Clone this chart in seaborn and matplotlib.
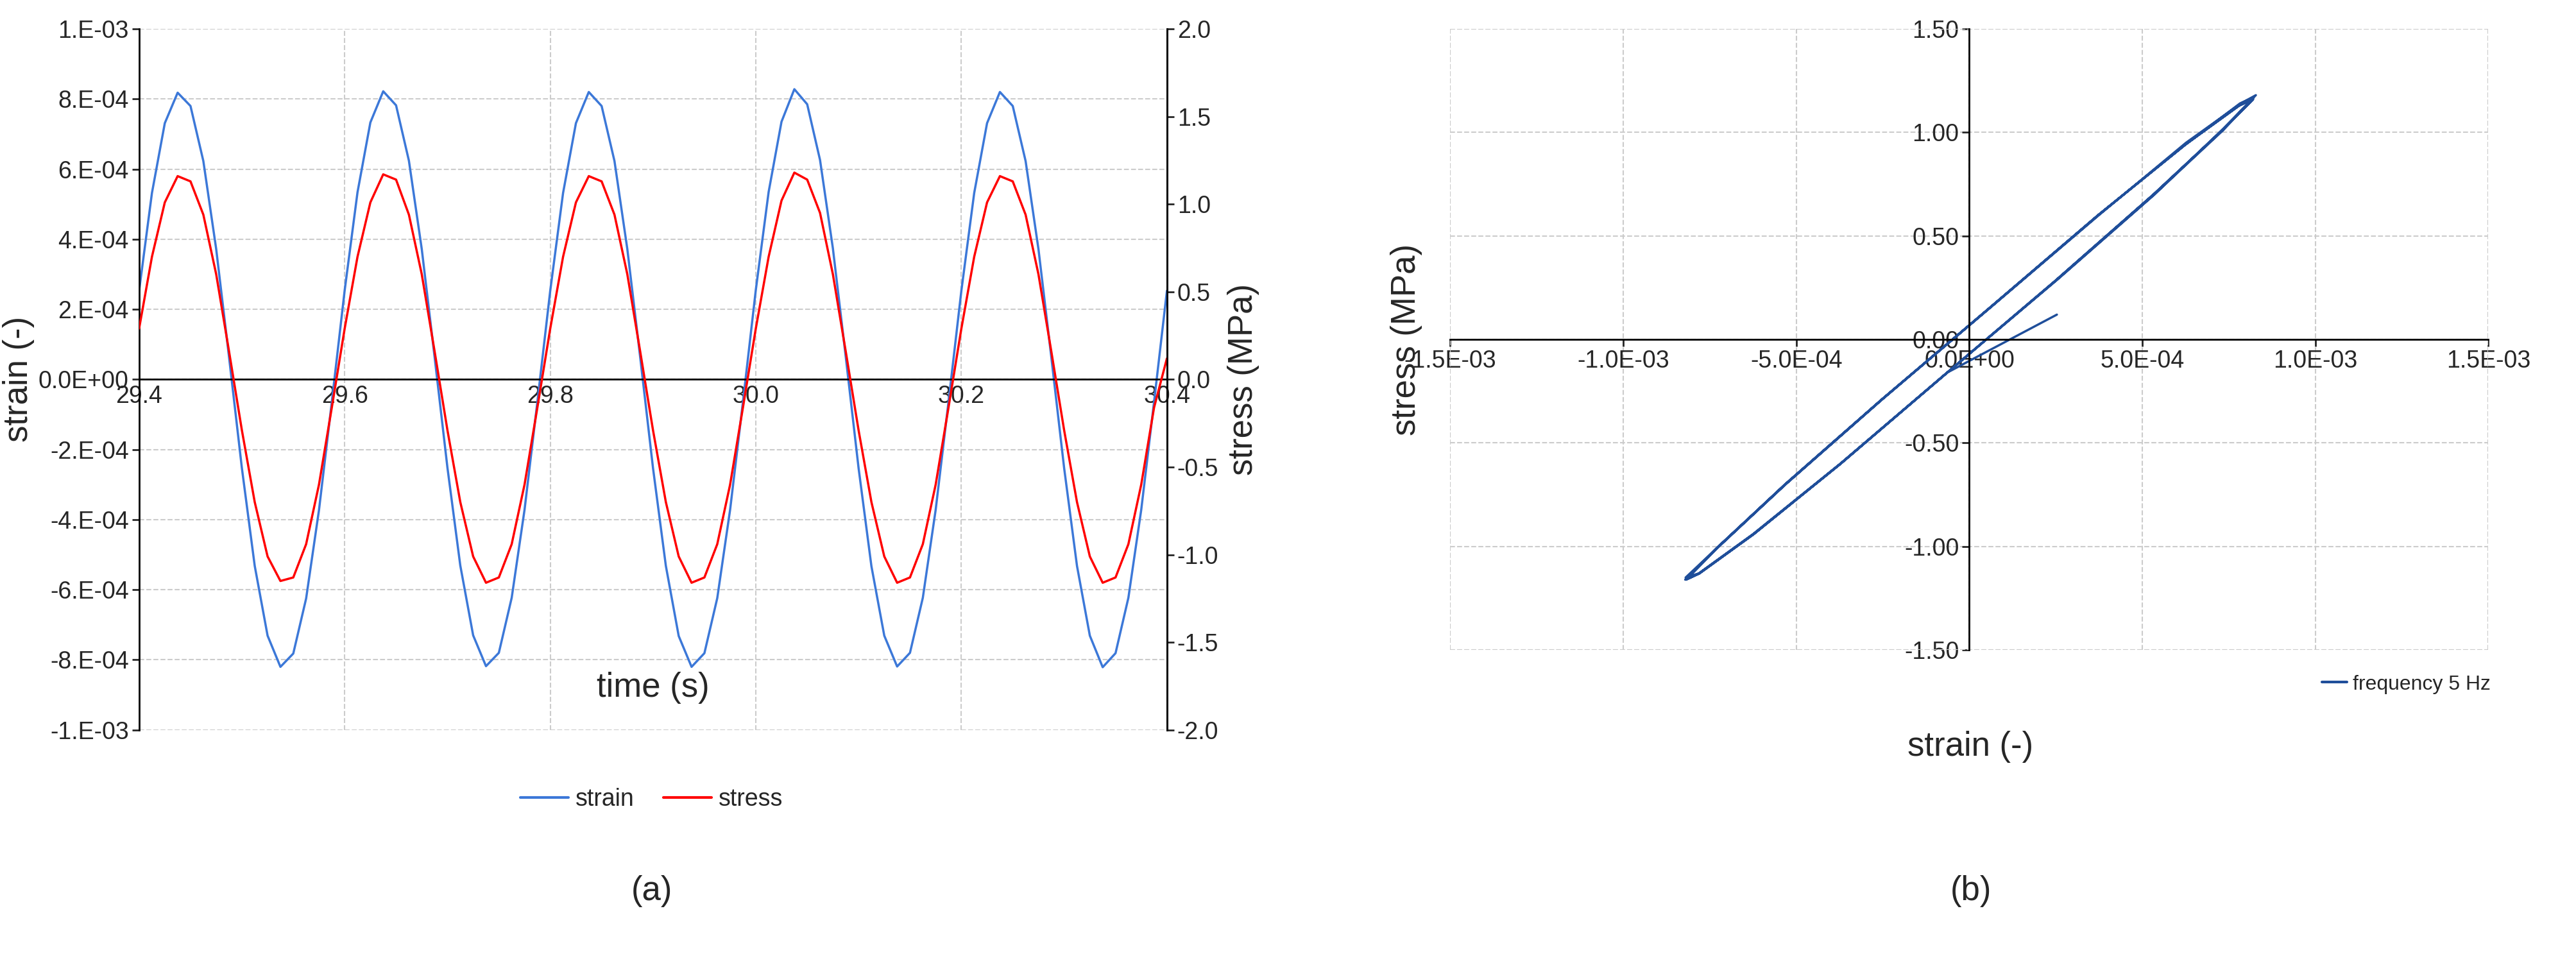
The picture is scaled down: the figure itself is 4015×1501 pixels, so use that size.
import numpy as np
import pandas as pd
import seaborn as sns
from matplotlib import pyplot as plt

##### Data #####
time = np.round(np.arange(81) * 0.0125 + 29.4, 4)
strain_e4 = [2.53, 5.32, 7.31, 8.18, 7.80, 6.23, 3.72, 0.64, -2.53, -5.32, -7.31, -8.20, -7.82, -6.25, -3.73, -0.64,
             2.54, 5.34, 7.33, 8.22, 7.82, 6.24, 3.72, 0.64, -2.52, -5.31, -7.30, -8.18, -7.80, -6.23, -3.72, -0.64,
             2.53, 5.32, 7.31, 8.20, 7.80, 6.23, 3.72, 0.64, -2.53, -5.32, -7.32, -8.20, -7.81, -6.24, -3.72, -0.64,
             2.55, 5.35, 7.35, 8.28, 7.85, 6.26, 3.74, 0.65, -2.53, -5.33, -7.31, -8.19, -7.80, -6.23, -3.72, -0.64,
             2.53, 5.32, 7.31, 8.20, 7.80, 6.23, 3.72, 0.64, -2.53, -5.32, -7.31, -8.21, -7.81, -6.23, -3.72, -0.64,
             2.53]
stress = [0.29, 0.70, 1.01, 1.16, 1.13, 0.94, 0.60, 0.16, -0.29, -0.70, -1.01, -1.15, -1.13, -0.94, -0.60, -0.16,
          0.29, 0.70, 1.01, 1.17, 1.14, 0.94, 0.60, 0.16, -0.29, -0.70, -1.01, -1.16, -1.13, -0.94, -0.60, -0.16,
          0.29, 0.70, 1.01, 1.16, 1.13, 0.94, 0.60, 0.16, -0.29, -0.70, -1.01, -1.16, -1.13, -0.94, -0.60, -0.16,
          0.29, 0.70, 1.02, 1.18, 1.14, 0.95, 0.60, 0.16, -0.29, -0.70, -1.01, -1.16, -1.13, -0.94, -0.60, -0.16,
          0.29, 0.70, 1.01, 1.16, 1.13, 0.94, 0.60, 0.16, -0.29, -0.70, -1.01, -1.16, -1.13, -0.94, -0.60, -0.16,
          0.12]

strain_ticks = ['-1.E-03', '-8.E-04', '-6.E-04', '-4.E-04', '-2.E-04', '0.0E+00',
                '2.E-04', '4.E-04', '6.E-04', '8.E-04', '1.E-03']
time_ticks = ['29.4', '29.6', '29.8', '30.0', '30.2', '30.4']
loop_xticks = ['-1.5E-03', '-1.0E-03', '-5.0E-04', '0.0E+00', '5.0E-04', '1.0E-03', '1.5E-03']

df = pd.DataFrame({'time': time, 'strain': np.array(strain_e4) * 1e-4, 'stress': stress})

sns.set_theme(style="white")
plt.rcParams['font.family'] = ['Liberation Sans', 'DejaVu Sans']
BLUE, RED, DARK = '#3C78D8', '#FF0000', '#1F4E9A'
TS, LS = 27, 38

fig = plt.figure(figsize=(40.15, 15.01), dpi=100)

##### (a) time series #####
ax = fig.add_axes([0.054, 0.242, 0.399, 0.728])
sns.lineplot(data=df, x='time', y='strain', ax=ax, color=BLUE, lw=2.5, estimator=None, legend=False)
ax.set_xlim(29.4, 30.4)
ax.set_ylim(-1e-3, 1e-3)
ax.spines['bottom'].set_position(('data', 0))
ax.spines['top'].set_visible(False)
for s in ['left', 'bottom', 'right']:
    ax.spines[s].set_color('black')
    ax.spines[s].set_linewidth(2)
ax.set_yticks(np.arange(-10, 11, 2) * 1e-4)
ax.set_yticklabels(strain_ticks)
ax.set_xticks(np.arange(29.4, 30.41, 0.2))
ax.set_xticklabels(time_ticks)
ax.tick_params(axis='x', pad=6, length=0, labelsize=TS)
ax.tick_params(axis='y', length=8, width=2, direction='out', left=True, labelsize=TS)
ax.grid(True, ls='--', color='#cccccc', lw=1.5)
ax.set_xlabel('')
ax.set_ylabel('strain (-)', fontsize=LS, labelpad=4)
ax.text(29.9, -9.05e-4, 'time (s)', fontsize=LS, ha='center')

ax2 = ax.twinx()
sns.lineplot(data=df, x='time', y='stress', ax=ax2, color=RED, lw=2.5, estimator=None, legend=False)
ax2.set_ylim(-2.0, 2.0)
ax2.set_yticks(np.arange(-2.0, 2.01, 0.5))
ax2.set_yticklabels([f'{v:.1f}' for v in np.arange(-2.0, 2.01, 0.5)])
ax2.set_ylabel('stress (MPa)', fontsize=LS, labelpad=10)
ax2.tick_params(axis='y', length=8, width=2, right=True, labelsize=TS)
for s in ['top', 'left', 'bottom']:
    ax2.spines[s].set_visible(False)
ax2.spines['right'].set_color('black')
ax2.spines['right'].set_linewidth(2)

h = [plt.Line2D([], [], color=BLUE, lw=3), plt.Line2D([], [], color=RED, lw=3)]
fig.legend(h, ['strain', 'stress'], loc='center', bbox_to_anchor=(0.253, 0.17), ncol=2,
           frameon=False, fontsize=TS, handlelength=2, columnspacing=1.2, handletextpad=0.3)
fig.text(0.253, 0.065, '(a)', fontsize=LS, ha='center')

##### (b) hysteresis loop #####
bx = fig.add_axes([0.563, 0.325, 0.403, 0.645])
sns.lineplot(data=df, x='strain', y='stress', sort=False, estimator=None, ax=bx, color=DARK, lw=2.5, legend=False)
bx.set_xlim(-1.5e-3, 1.5e-3)
bx.set_ylim(-1.5, 1.5)
bx.spines['left'].set_position(('data', 0))
bx.spines['bottom'].set_position(('data', 0))
for s in ['top', 'right']:
    bx.spines[s].set_visible(False)
for s in ['left', 'bottom']:
    bx.spines[s].set_color('black')
    bx.spines[s].set_linewidth(2)
bx.set_xticks(np.arange(-15, 16, 5) * 1e-4)
bx.set_xticklabels(loop_xticks)
bx.set_yticks(np.arange(-1.5, 1.51, 0.5))
bx.set_yticklabels([f'{v:.2f}' for v in np.arange(-1.5, 1.51, 0.5)])
bx.tick_params(axis='both', length=8, width=2, direction='out', bottom=True, left=True, labelsize=TS)
bx.grid(True, ls='--', color='#cccccc', lw=1.5)
for s in [-1.5e-3, 1.5e-3]:
    bx.axvline(s, ls='--', color='#cccccc', lw=1.5)
bx.axhline(1.5, ls='--', color='#cccccc', lw=1.5)
bx.axhline(-1.5, ls='--', color='#cccccc', lw=1.5)
bx.set_xlabel('')
bx.set_ylabel('')
fig.text(0.546, 0.647, 'stress (MPa)', fontsize=LS, rotation=90, ha='center', va='center')
fig.text(0.765, 0.215, 'strain (-)', fontsize=LS, ha='center')
bx.legend([plt.Line2D([], [], color=DARK, lw=3)], ['frequency 5 Hz'], loc='upper right',
          bbox_to_anchor=(1.02, -0.01), frameon=False, fontsize=TS * 0.85, handlelength=1.2, handletextpad=0.3)
fig.text(0.765, 0.065, '(b)', fontsize=LS, ha='center')

fig.savefig('out.png', dpi=100)
